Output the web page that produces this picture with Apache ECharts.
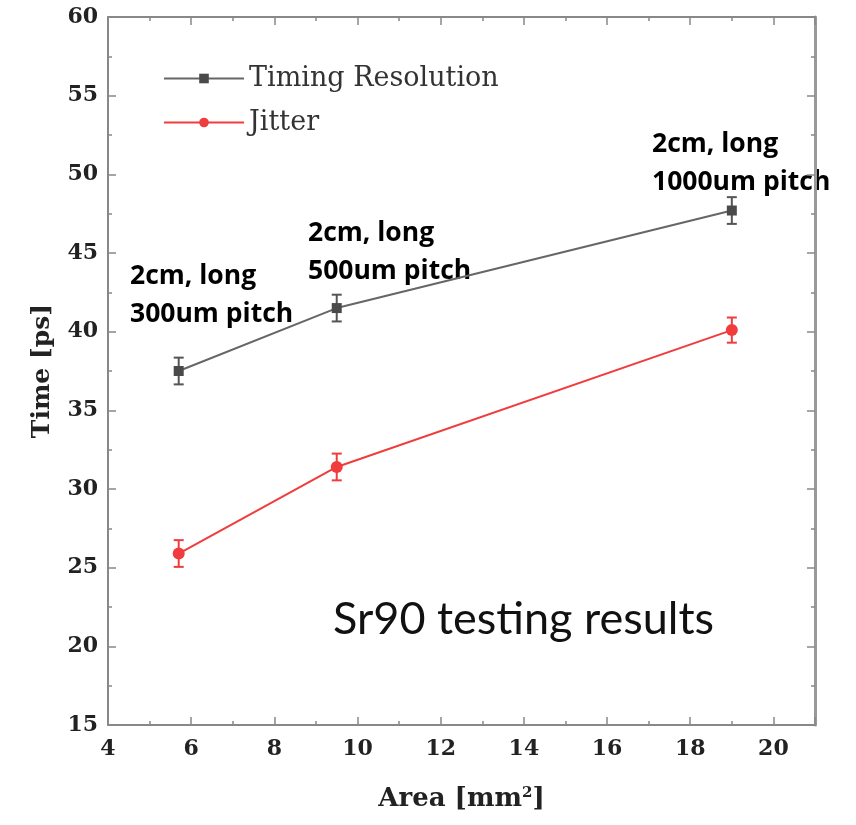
<!DOCTYPE html>
<html>
<head>
<meta charset="utf-8">
<script src="https://cdn.jsdelivr.net/npm/echarts@6/dist/echarts.min.js"></script>
<style>
html,body{margin:0;padding:0;background:#fff;}
#chart{width:856px;height:825px;}
</style>
</head>
<body>
<div id="chart"></div>
<script>
// ---- data ----
const areas = [5.7, 9.5, 19.0];
const timingResolution = [37.5, 41.5, 47.7];
const timingErr = [0.85, 0.85, 0.85];
const jitter = [25.9, 31.4, 40.1];
const jitterErr = [0.85, 0.85, 0.8];
const seriesNames = ['Timing Resolution', 'Jitter'];
const annotations = [
  ['2cm, long', '300um pitch'],
  ['2cm, long', '500um pitch'],
  ['2cm, long', '1000um pitch']
];
const noteText = 'Sr90 testing results';

const chart = echarts.init(document.getElementById('chart'));

const grayLine = '#666666';
const grayMark = '#4a4a4a';
const red = '#f03c3c';

function errData(xs, ys, es) {
  return xs.map((x, i) => [x, ys[i] - es[i], ys[i] + es[i]]);
}
function makeErrRender(color) {
  return function (params, api) {
    const x = api.value(0), lo = api.value(1), hi = api.value(2);
    const p1 = api.coord([x, lo]), p2 = api.coord([x, hi]);
    const w = 5;
    const st = { stroke: color, lineWidth: 2 };
    return {
      type: 'group',
      children: [
        { type: 'line', shape: { x1: p1[0], y1: p1[1], x2: p2[0], y2: p2[1] }, style: st },
        { type: 'line', shape: { x1: p1[0] - w, y1: p1[1], x2: p1[0] + w, y2: p1[1] }, style: st },
        { type: 'line', shape: { x1: p2[0] - w, y1: p2[1], x2: p2[0] + w, y2: p2[1] }, style: st }
      ]
    };
  };
}

const tickFont = { fontFamily: 'DejaVu Serif', fontWeight: 'bold', fontSize: 22, color: '#222' };
const axisLineStyle = { lineStyle: { color: '#888', width: 2 } };
const annoFont = 'bold 26.5px "Open Sans"';

const option = {
  backgroundColor: '#fff',
  animation: false,
  grid: { left: 108, right: 41, top: 17, bottom: 100 },
  legend: {
    orient: 'vertical',
    left: 158, top: 60,
    itemWidth: 80, itemHeight: 12, itemGap: 17,
    textStyle: { fontFamily: 'DejaVu Serif', fontSize: 27, color: '#333' },
    data: seriesNames
  },
  xAxis: [{
    type: 'value', min: 4, max: 21, interval: 2,
    axisLine: axisLineStyle,
    axisTick: { inside: true, length: 8, lineStyle: { color: '#888', width: 1.5 } },
    minorTick: { show: true, splitNumber: 2, length: 4, lineStyle: { color: '#888', width: 1.5 } },
    splitLine: { show: false },
    axisLabel: Object.assign({ margin: 13, showMaxLabel: false }, tickFont),
    name: 'Area [mm{sup|2}]',
    nameLocation: 'middle', nameGap: 61,
    nameTextStyle: {
      fontFamily: 'DejaVu Serif', fontWeight: 'bold', fontSize: 26, color: '#222',
      rich: { sup: { fontFamily: 'DejaVu Serif', fontWeight: 'bold', fontSize: 15, color: '#222', verticalAlign: 'top', padding: [0, 0, 12, 0] } }
    }
  }, {
    type: 'value', min: 4, max: 21, interval: 2, position: 'top',
    axisLine: axisLineStyle,
    axisTick: { inside: true, length: 8, lineStyle: { color: '#888', width: 1.5 } },
    minorTick: { show: true, splitNumber: 2, length: 4, lineStyle: { color: '#888', width: 1.5 } },
    splitLine: { show: false }, axisLabel: { show: false }
  }],
  yAxis: [{
    type: 'value', min: 15, max: 60, interval: 5,
    axisLine: { show: true, lineStyle: { color: '#888', width: 2 } },
    axisTick: { show: true, inside: true, length: 8, lineStyle: { color: '#888', width: 1.5 } },
    minorTick: { show: true, splitNumber: 2, length: 4, lineStyle: { color: '#888', width: 1.5 } },
    splitLine: { show: false },
    axisLabel: Object.assign({ margin: 10 }, tickFont),
    name: 'Time [ps]', nameLocation: 'middle', nameGap: 53, nameRotate: 90,
    nameTextStyle: { fontFamily: 'DejaVu Serif', fontWeight: 'bold', fontSize: 25, color: '#222' }
  }, {
    type: 'value', min: 15, max: 60, interval: 5, position: 'right',
    axisLine: { show: true, lineStyle: { color: '#999', width: 3 } },
    axisTick: { show: true, inside: true, length: 8, lineStyle: { color: '#888', width: 1.5 } },
    minorTick: { show: true, splitNumber: 2, length: 4, lineStyle: { color: '#888', width: 1.5 } },
    splitLine: { show: false }, axisLabel: { show: false }
  }],
  series: [
    {
      name: seriesNames[0], type: 'line',
      data: areas.map((x, i) => [x, timingResolution[i]]),
      symbol: 'rect', symbolSize: 10,
      lineStyle: { color: grayLine, width: 2 },
      itemStyle: { color: grayMark },
      color: grayLine, z: 3
    },
    {
      name: seriesNames[1], type: 'line',
      data: areas.map((x, i) => [x, jitter[i]]),
      symbol: 'circle', symbolSize: 12,
      lineStyle: { color: red, width: 2 },
      itemStyle: { color: red },
      color: red, z: 3
    },
    {
      type: 'custom', renderItem: makeErrRender('#555'),
      data: errData(areas, timingResolution, timingErr),
      encode: { x: 0, y: [1, 2] }, z: 2, silent: true
    },
    {
      type: 'custom', renderItem: makeErrRender(red),
      data: errData(areas, jitter, jitterErr),
      encode: { x: 0, y: [1, 2] }, z: 2, silent: true
    }
  ],
  graphic: [
    { type: 'text', left: 130, top: 257, style: { text: annotations[0].join('\n'), font: annoFont, fill: '#000', lineHeight: 38 } },
    { type: 'text', left: 308, top: 214, style: { text: annotations[1].join('\n'), font: annoFont, fill: '#000', lineHeight: 38 } },
    { type: 'text', left: 652, top: 125, style: { text: annotations[2].join('\n'), font: annoFont, fill: '#000', lineHeight: 38 } },
    { type: 'text', left: 333, top: 597, style: { text: noteText, font: '45px Lato', fill: '#111' } }
  ]
};
chart.setOption(option);
</script>
</body>
</html>
